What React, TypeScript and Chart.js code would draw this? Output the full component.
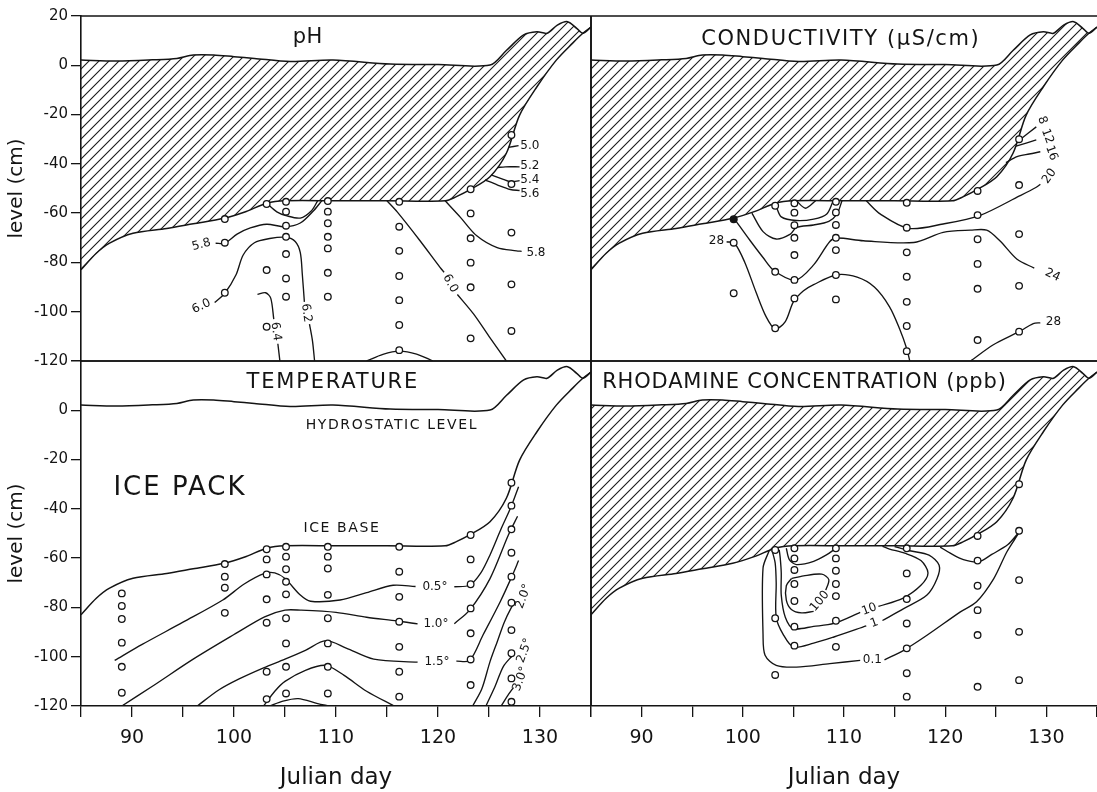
import React, { useEffect, useRef } from 'react';
import { Chart, registerables } from 'chart.js';

Chart.register(...registerables);

type P = [number, number];
type Label = [string, number, number, number];
type Title = [string, number, number];

// ---------- axes ----------
const DAY_MIN = 85;
const DAY_MAX = 135;
const LEVEL_MIN = -120;
const LEVEL_MAX = 20;
const dayTickLabels = [90, 100, 110, 120, 130];
const levelTickLabels = [20, 0, -20, -40, -60, -80, -100, -120];

// ---------- shared ice geometry ----------
const hydrostaticLevel: P[] = [[85, 2.1], [88.5, 1.7], [92, 2.2], [94.4, 2.8], [96, 4.2], [98, 4.2], [100, 3.5], [102, 2.8], [105.5, 1.5], [109.7, 2.1], [115.3, 0.5], [120, 0.3], [125.1, 0.1], [126.7, 6], [128.4, 12.3], [129.7, 13.6], [130.7, 13], [131.7, 16.3], [132.7, 17.7], [133.6, 15], [134.2, 13], [135, 15.5]];
const iceBase: P[] = [[85, -83], [86.5, -76.3], [87.8, -72.2], [90.1, -68.2], [93.4, -66.2], [96, -64.3], [99, -62.1], [101.2, -59.3], [103.2, -56], [105, -55], [110, -55], [115, -55], [120.7, -55], [121.8, -53.3], [123.1, -50.6], [125.1, -45.2], [126.7, -35.7], [128, -20.2], [129.7, -8.7], [131.6, 2.1], [133.2, 9], [134.2, 13], [135, 15.5]];

// ---------- pH ----------
const phSamples: P[] = [
  [99.1, -62.4], [99.1, -72], [99.1, -92.3],
  [103.2, -56.3], [103.2, -83.1], [103.2, -106.1],
  [105.1, -55.4], [105.1, -59.4], [105.1, -65.1], [105.1, -69.6], [105.1, -76.6], [105.1, -86.5], [105.1, -93.9],
  [109.2, -55.1], [109.2, -59.4], [109.2, -64.1], [109.2, -69.6], [109.2, -74.3], [109.2, -84.2], [109.2, -93.9],
  [116.2, -55.4], [116.2, -65.5], [116.2, -75.3], [116.2, -85.5], [116.2, -95.3], [116.2, -105.4], [116.2, -115.6],
  [123.2, -50.3], [123.2, -60.1], [123.2, -70.2], [123.2, -80.1], [123.2, -90.1], [123.2, -110.8],
  [127.2, -28.3], [127.2, -48.2], [127.2, -67.9], [127.2, -88.9], [127.2, -107.8],
];
const phArcUpper: P[] = [[103.2, -56], [104.2, -59.5], [105.1, -61], [106.5, -62], [107.6, -59], [108.2, -55]];
const ph58Left: P[] = [[98.2, -72.2], [99.1, -72.2], [100.3, -68.5], [101.6, -66], [103.2, -64.5], [105, -65.5], [106.5, -64], [107.8, -59], [108.6, -55]];
const ph60Left: P[] = [[98.1, -96.3], [99.1, -92.5], [100.2, -85], [100.9, -77], [102, -72], [103.5, -70.3], [105.1, -69.8], [106, -71.5], [106.5, -76], [106.7, -85], [106.9, -96]];
const ph62Low: P[] = [[107.4, -105], [107.7, -112], [107.9, -120]];
const ph64Top: P[] = [[102.3, -93], [103.1, -92.3], [103.6, -94.5], [103.9, -103]];
const ph64Low: P[] = [[104.3, -113], [104.5, -120]];
const phDome: P[] = [[113, -120], [114.6, -117.3], [116.2, -116], [117.9, -117.2], [119.5, -120]];
const ph60RightA: P[] = [[115, -55], [116, -59.5], [118.2, -71], [120.2, -82], [120.6, -84]];
const ph60RightB: P[] = [[121.9, -93], [123.5, -101], [125, -110], [126.7, -120]];
const ph58Right: P[] = [[120.7, -55], [122.2, -61.7], [123.8, -69.2], [125.8, -74], [127.7, -75.3], [128.2, -75.5]];
const ph50: P[] = [[126.9, -33.3], [127.9, -32.6]];
const ph52: P[] = [[125.8, -41.5], [126.6, -41.2], [128, -41.2]];
const ph54: P[] = [[125.2, -44.5], [126.4, -46.3], [127.1, -47.3], [128, -46.8]];
const ph56: P[] = [[124.6, -46.5], [125.8, -48.5], [127.1, -50.4], [128, -50.8]];
const phLabels: Label[] = [
  ['5.8', 96.8, -72.8, -15], ['6.0', 96.8, -97.8, -25], ['6.2', 107.1, -100.5, 82], ['6.4', 104.1, -108, 82],
  ['6.0', 121.2, -88.5, 62], ['5.8', 129.6, -76, 0], ['5.0', 129.0, -32.6, 0], ['5.2', 129.0, -41, 0],
  ['5.4', 129.0, -46.6, 0], ['5.6', 129.0, -52.2, 0],
];

// ---------- conductivity ----------
const condSamples: P[] = [
  [99.1, -72], [99.1, -92.5],
  [103.2, -57], [103.2, -83.8], [103.2, -106.7],
  [105.1, -56], [105.1, -59.8], [105.1, -64.9], [105.1, -70], [105.1, -77], [105.1, -87.1], [105.1, -94.6],
  [109.2, -55.4], [109.2, -59.7], [109.2, -64.8], [109.2, -70], [109.2, -75], [109.2, -85.1], [109.2, -95],
  [116.2, -55.8], [116.2, -65.9], [116.2, -75.9], [116.2, -85.8], [116.2, -96], [116.2, -105.8], [116.2, -116],
  [123.2, -51], [123.2, -60.8], [123.2, -70.6], [123.2, -80.6], [123.2, -90.7], [123.2, -111.5],
  [127.3, -30], [127.3, -48.6], [127.3, -68.5], [127.3, -89.5], [127.3, -108.1],
];
const condFilled: P[] = [[99.1, -62.5]];
const cArcSmall: P[] = [[105.3, -55], [106.2, -58], [107.2, -55]];
const cArcB: P[] = [[103.3, -57.3], [103.8, -61.5], [105.3, -63], [107, -62.4], [108.3, -60.3], [108.9, -55.3]];
const cArcC: P[] = [[100.9, -60], [102, -67.5], [103.3, -70.5], [104.7, -68.5], [105.3, -65.8], [107, -64.8], [108.5, -63.3], [109.3, -60.4], [109.8, -55]];
const c24: P[] = [[99.2, -62.5], [100.7, -71], [102, -78], [103.1, -83.4], [105.2, -87.2], [107, -81], [108.6, -71.5], [109.3, -70.1], [111.9, -71.2], [116.9, -71.9], [119.8, -67.8], [122.5, -66.9], [124.1, -66.9], [125.4, -71.2], [127.1, -78.7], [128.8, -82.3]];
const c28: P[] = [[98.4, -71.6], [99.2, -72.3], [100.2, -80], [101.3, -92], [102.3, -102], [103.2, -107], [104.2, -104], [105, -96], [106, -91.5], [107, -89], [109.3, -85], [111.3, -86], [113, -90], [114.5, -98], [115.5, -107], [116.2, -115], [116.5, -120]];
const c28Right: P[] = [[122.5, -120], [124.8, -113.3], [127.4, -107.9], [128.7, -104.8], [129.4, -104.5]];
const c20: P[] = [[112.2, -55], [113.6, -60.4], [116.4, -66.2], [119.8, -64.4], [123.4, -61], [127.4, -52.9], [129, -49.5], [129.4, -48.3]];
const c16: P[] = [[126, -39.5], [127.1, -37.1], [128.3, -36], [129.4, -35.1]];
const c12: P[] = [[127, -32.8], [129, -30.3]];
const c8: P[] = [[127.5, -29.8], [129, -25]];
const condLabels: Label[] = [
  ['28', 97.4, -71.2, 0], ['8', 129.6, -22.3, 70], ['12', 130.1, -28.8, 70], ['16', 130.5, -35.6, 70],
  ['20', 130.3, -45, -55], ['24', 130.6, -85.2, 25], ['28', 130.7, -104.2, 0],
];

// ---------- temperature ----------
const tempSamples: P[] = [
  [89, -74.3], [89, -79.4], [89, -84.7], [89, -94.3], [89, -104.1], [89, -114.6],
  [99.1, -62.4], [99.1, -67.5], [99.1, -72], [99.1, -82.2],
  [103.2, -56.4], [103.2, -60.5], [103.2, -66.6], [103.2, -76.7], [103.2, -86.2], [103.2, -106.1], [103.2, -117.2],
  [105.1, -55.4], [105.1, -59.4], [105.1, -64.5], [105.1, -69.6], [105.1, -74.7], [105.1, -84.4], [105.1, -94.6], [105.1, -104.1], [105.1, -114.9],
  [109.2, -55.4], [109.2, -59.4], [109.2, -64.2], [109.2, -74.9], [109.2, -84.4], [109.2, -94.6], [109.2, -104.1], [109.2, -114.9],
  [116.2, -55.4], [116.2, -65.5], [116.2, -75.7], [116.2, -85.8], [116.2, -96], [116.2, -106.1], [116.2, -116.2],
  [123.2, -50.6], [123.2, -60.5], [123.2, -70.6], [123.2, -80.4], [123.2, -90.5], [123.2, -101.1], [123.2, -111.5],
  [127.2, -29.4], [127.2, -38.7], [127.2, -48.3], [127.2, -57.8], [127.2, -67.5], [127.2, -78.1], [127.2, -89.2], [127.2, -98.6], [127.2, -108.8], [127.2, -118.3],
];
const t05a: P[] = [[88.3, -101.5], [91, -95], [95, -86], [98.9, -77], [101, -70.5], [103, -66.2], [104, -66], [105, -68.3], [106.5, -75], [107.5, -77.5], [110.4, -77], [113, -74], [115.6, -71], [117.8, -71.5]];
const t05b: P[] = [[121.6, -71.6], [123.1, -71], [124.2, -66], [125.1, -58.7], [126.2, -48], [127.1, -39.8], [127.9, -31]];
const t10a: P[] = [[89, -120], [92, -112], [96, -101], [100, -91], [103, -83.8], [105, -81.1], [106.5, -81.1], [110, -82], [113, -84], [116, -85.5], [118, -86.7]];
const t10b: P[] = [[121.6, -86.6], [123.1, -81.1], [125.1, -68.3], [126.9, -50.6], [127.8, -43]];
const t15a: P[] = [[96.4, -120], [98.5, -113.5], [100.5, -109], [102.9, -104.5], [105, -101], [107, -97.4], [109, -93.5], [111, -96.5], [113.7, -101], [118, -102.2]];
const t15b: P[] = [[121.8, -101.8], [123.1, -101.5], [124.4, -91.3], [126.1, -77.7], [127.3, -66.9], [127.9, -61]];
const t20: P[] = [[123.4, -120], [124.3, -113], [125.1, -102], [125.8, -94], [126.5, -86], [127.2, -80], [127.6, -77.5]];
const t25: P[] = [[124.7, -120], [125.6, -112], [126.4, -104], [127.3, -99.5]];
const t30: P[] = [[126.2, -120], [126.8, -116], [127.4, -112.5]];
const tLowA: P[] = [[102.9, -120], [104, -114], [105, -110], [107, -105.5], [109, -103.5], [110.8, -107.6], [113, -114], [115.7, -120]];
const tLowB: P[] = [[103.5, -120], [104.8, -118], [106.3, -117], [108.2, -119], [109.3, -120]];
const tempLabels: Label[] = [
  ['0.5°', 119.7, -71.5, 0], ['1.0°', 119.8, -86.8, 0], ['1.5°', 119.9, -102, 0],
  ['2.0°', 128.4, -75.5, -70], ['2.5°', 128.5, -97.5, -70], ['3.0°', 128.1, -109, -70],
];

// ---------- rhodamine ----------
const rhodSamples: P[] = [
  [103.2, -56.7], [103.2, -84.4], [103.2, -107.4],
  [105.1, -56], [105.1, -60.1], [105.1, -64.8], [105.1, -70.5], [105.1, -77.4], [105.1, -87.8], [105.1, -95.5],
  [109.2, -56], [109.2, -60.1], [109.2, -65.1], [109.2, -70.5], [109.2, -75.4], [109.2, -85.4], [109.2, -96],
  [116.2, -56], [116.2, -66.2], [116.2, -76.6], [116.2, -86.5], [116.2, -96.6], [116.2, -106.7], [116.2, -116.2],
  [123.2, -51], [123.2, -61], [123.2, -71.2], [123.2, -81.1], [123.2, -91.2], [123.2, -112.2],
  [127.3, -30], [127.3, -48.9], [127.3, -68.9], [127.3, -89.9], [127.3, -109.5],
];
const r01A: P[] = [[102.6, -57], [102, -64], [102, -91], [102.2, -99.4], [103.3, -103.5], [105.3, -104.2], [108.6, -102.8], [111.6, -101.5]];
const r01B: P[] = [[114, -101.3], [115.9, -97.4], [118.2, -91.3], [121.5, -81.8], [123.1, -77.7], [124.8, -68.3], [126.1, -57.4], [127.3, -49.5], [126.2, -54.5], [124.6, -58.5], [123.3, -61.5], [121.8, -60.6], [120.5, -58], [119.5, -55.5]];
const r1A: P[] = [[102.9, -57], [103.2, -62], [103.3, -70], [103.3, -84], [104, -91], [105, -96], [107, -94.5], [109, -92], [112.2, -87.5]];
const r1B: P[] = [[113.8, -85.3], [115.9, -80.5], [118.2, -75], [119.2, -68.3], [119.4, -62.9], [118.4, -58.8], [116.5, -57], [115, -55.3]];
const r10A: P[] = [[103.6, -56.6], [103.7, -60], [103.8, -66], [103.8, -75], [104.2, -84], [105, -88.6], [107, -87.7], [109, -86.5], [111.6, -82]];
const r10B: P[] = [[113.4, -79.6], [115.8, -76.3], [117.6, -71], [118.3, -66], [117.6, -61], [116, -58], [114.5, -56.3], [113.8, -55.2]];
const r100A: P[] = [[104.8, -68.3], [104.3, -71.2], [104.3, -77], [104.8, -80.8], [105.8, -82.2], [107, -81.6]];
const r100B: P[] = [[108.2, -73], [108.5, -68.7], [107.8, -66.5], [106, -67.2], [104.8, -68.3]];
const rArcTop: P[] = [[104.3, -56], [104.6, -60.6], [105.3, -62.6], [107, -61.3], [108.3, -58.6], [109.1, -56.3]];
const rhodLabels: Label[] = [
  ['100', 107.6, -77.5, -50], ['10', 112.5, -80.8, -20], ['1', 113, -86.3, -20], ['0.1', 112.8, -101.4, 0],
];

// ---------- panels ----------
const W = 1097;
const H = 792;

interface PanelDef {
  id: string;
  pad: { left: number; top: number; right: number; bottom: number };
  leftAxis: boolean;
  bottomAxis: boolean;
  hatch: boolean;
  hideTopLevelLabel: boolean;
  samples: P[];
  filled: P[];
  lines: P[][];
  labels: Label[];
  titles: Title[];
  titleFonts: [number, number][];
  edges: string[];
}

const panels: PanelDef[] = [
  {
    id: 'ph', pad: { left: 0, top: 16, right: W - 591, bottom: H - 361 }, leftAxis: true, bottomAxis: false, hatch: true,
    hideTopLevelLabel: false, samples: phSamples, filled: [],
    lines: [phArcUpper, ph58Left, ph60Left, ph62Low, ph64Top, ph64Low, phDome, ph60RightA, ph60RightB, ph58Right, ph50, ph52, ph54, ph56],
    labels: phLabels, titles: [['pH', 107.2, 11.1]], titleFonts: [[21, 0.5]], edges: ['top', 'right', 'bottom'],
  },
  {
    id: 'cond', pad: { left: 591, top: 16, right: 0, bottom: H - 361 }, leftAxis: false, bottomAxis: false, hatch: true,
    hideTopLevelLabel: false, samples: condSamples, filled: condFilled,
    lines: [cArcSmall, cArcB, cArcC, c24, c28, c28Right, c20, c16, c12, c8],
    labels: condLabels, titles: [['CONDUCTIVITY (µS/cm)', 109.6, 10.3]], titleFonts: [[21, 1.6]], edges: ['top', 'left', 'bottom'],
  },
  {
    id: 'temp', pad: { left: 0, top: 361, right: W - 591, bottom: 0 }, leftAxis: true, bottomAxis: true, hatch: false,
    hideTopLevelLabel: true, samples: tempSamples, filled: [],
    lines: [t05a, t05b, t10a, t10b, t15a, t15b, t20, t25, t30, tLowA, tLowB],
    labels: tempLabels,
    titles: [['TEMPERATURE', 109.6, 11.1], ['HYDROSTATIC LEVEL', 115.4, -6], ['ICE PACK', 94.6, -31.5], ['ICE BASE', 110.5, -47.8]],
    titleFonts: [[21, 1.8], [14, 1.6], [26, 2], [14, 1.6]], edges: ['top', 'right'],
  },
  {
    id: 'rhod', pad: { left: 591, top: 361, right: 0, bottom: 0 }, leftAxis: false, bottomAxis: true, hatch: true,
    hideTopLevelLabel: true, samples: rhodSamples, filled: [],
    lines: [r01A, r01B, r1A, r1B, r10A, r10B, r100A, r100B, rArcTop],
    labels: rhodLabels, titles: [['RHODAMINE CONCENTRATION (ppb)', 106.05, 11.1]], titleFonts: [[21, 0.8]], edges: ['top', 'left'],
  },
];

const FONT = "'DejaVu Sans', 'Noto Sans', sans-serif";
const INK = '#141414';

const toXY = (pts: P[]) => pts.map(([x, y]) => ({ x, y }));

function makeHatch(): CanvasPattern | string {
  const c = document.createElement('canvas');
  c.width = 10;
  c.height = 10;
  const g = c.getContext('2d');
  if (!g) return 'rgba(0,0,0,0.2)';
  g.strokeStyle = '#1a1a1a';
  g.lineWidth = 1.1;
  g.beginPath();
  g.moveTo(-1, 11); g.lineTo(11, -1);
  g.moveTo(-1, 1); g.lineTo(1, -1);
  g.moveTo(9, 11); g.lineTo(11, 9);
  g.stroke();
  return g.createPattern(c, 'repeat') || 'rgba(0,0,0,0.2)';
}

function framePlugin(edges: string[]) {
  return {
    id: 'panelFrame',
    afterDraw(chart: any) {
      const { ctx, chartArea: a } = chart;
      ctx.save();
      ctx.strokeStyle = INK;
      ctx.lineWidth = 1.6;
      ctx.beginPath();
      if (edges.includes('top')) { ctx.moveTo(a.left, a.top); ctx.lineTo(a.right, a.top); }
      if (edges.includes('bottom')) { ctx.moveTo(a.left, a.bottom); ctx.lineTo(a.right, a.bottom); }
      if (edges.includes('left')) { ctx.moveTo(a.left, a.top); ctx.lineTo(a.left, a.bottom); }
      if (edges.includes('right')) { ctx.moveTo(a.right, a.top); ctx.lineTo(a.right, a.bottom); }
      ctx.stroke();
      ctx.restore();
    },
  };
}

function textPlugin(labels: Label[], titles: Title[], titleFonts: [number, number][]) {
  return {
    id: 'panelText',
    afterDatasetsDraw(chart: any) {
      const { ctx } = chart;
      const xs = chart.scales.x;
      const ys = chart.scales.y;
      ctx.save();
      ctx.textAlign = 'center';
      ctx.textBaseline = 'middle';
      titles.forEach(([t, d, l], i) => {
        const [size, sp] = titleFonts[i];
        ctx.font = `${size}px ${FONT}`;
        (ctx as any).letterSpacing = `${sp}px`;
        const w = ctx.measureText(t).width;
        const px = xs.getPixelForValue(d);
        const py = ys.getPixelForValue(l);
        ctx.fillStyle = '#fff';
        ctx.fillRect(px - w / 2 - 3, py - size * 0.62, w + 6, size * 1.24);
        ctx.fillStyle = INK;
        ctx.fillText(t, px + sp / 2, py);
      });
      (ctx as any).letterSpacing = '0px';
      ctx.font = `12px ${FONT}`;
      ctx.fillStyle = INK;
      for (const [t, d, l, ang] of labels) {
        const px = xs.getPixelForValue(d);
        const py = ys.getPixelForValue(l);
        ctx.save();
        ctx.translate(px, py);
        ctx.rotate((ang * Math.PI) / 180);
        ctx.fillText(t, 0, 0);
        ctx.restore();
      }
      ctx.restore();
    },
  };
}

function buildConfig(def: PanelDef, pattern: CanvasPattern | string): any {
  const lineDs = (pts: P[], w = 1.35) => ({
    data: toXY(pts), showLine: true, pointRadius: 0, borderColor: INK, borderWidth: w, tension: 0.3, fill: false,
  });
  const datasets: any[] = [];
  if (def.filled.length) {
    datasets.push({ data: toXY(def.filled), showLine: false, pointRadius: 3.4, pointBackgroundColor: INK, pointBorderColor: INK, pointBorderWidth: 1.3 });
  }
  datasets.push({ data: toXY(def.samples), showLine: false, pointRadius: 3.3, pointBackgroundColor: '#fff', pointBorderColor: INK, pointBorderWidth: 1.3 });
  def.lines.forEach((seg) => datasets.push(lineDs(seg)));
  datasets.push(lineDs(hydrostaticLevel, 1.5));
  datasets.push(lineDs(iceBase, 1.5));
  if (def.hatch) {
    datasets.push({
      data: toXY([...hydrostaticLevel, ...iceBase.slice().reverse()]),
      showLine: true, fill: 'shape', backgroundColor: pattern, borderColor: 'rgba(0,0,0,0)', borderWidth: 0, pointRadius: 0, tension: 0.3,
    });
  }

  const yAxis: any = {
    type: 'linear', min: LEVEL_MIN, max: LEVEL_MAX, display: def.leftAxis,
    ticks: {
      stepSize: 20, autoSkip: false, padding: 3, color: INK, font: { size: 15, family: FONT },
      callback: (v: number) => (levelTickLabels.includes(v) && !(def.hideTopLevelLabel && v === LEVEL_MAX) ? String(v) : ''),
    },
    grid: { display: true, drawOnChartArea: false, drawTicks: true, tickLength: 10, color: INK, lineWidth: 1.3 },
    border: { display: true, color: INK, width: 1.6 },
    title: { display: true, text: 'level (cm)', color: INK, font: { size: 20, family: FONT }, padding: { top: 5, bottom: 0 } },
  };
  if (def.leftAxis) {
    yAxis.afterFit = (scale: any) => { scale.width = 81; scale.paddingTop = 0; scale.paddingBottom = 0; };
  }

  const xAxis: any = {
    type: 'linear', min: DAY_MIN, max: DAY_MAX, display: def.bottomAxis,
    ticks: {
      stepSize: 5, autoSkip: false, maxRotation: 0, padding: 10, color: INK, font: { size: 19, family: FONT },
      callback: (v: number) => (dayTickLabels.includes(v) ? String(v) : ''),
    },
    grid: { display: true, drawOnChartArea: false, drawTicks: true, tickLength: 11, color: INK, lineWidth: 1.3 },
    border: { display: true, color: INK, width: 1.6 },
    title: { display: true, text: 'Julian day', color: INK, font: { size: 23, family: FONT }, padding: { top: 0, bottom: 0 } },
  };
  if (def.bottomAxis) {
    xAxis.afterFit = (scale: any) => { scale.height = 86; scale.paddingLeft = 0; scale.paddingRight = 0; };
  }

  return {
    type: 'scatter',
    data: { datasets },
    options: {
      responsive: false,
      maintainAspectRatio: false,
      devicePixelRatio: 1,
      animation: false,
      events: [],
      layout: { padding: def.pad, autoPadding: false },
      plugins: { legend: { display: false }, tooltip: { enabled: false } },
      scales: { x: xAxis, y: yAxis },
    },
    plugins: [textPlugin(def.labels, def.titles, def.titleFonts), framePlugin(def.edges)],
  };
}

export default function App() {
  const r0 = useRef<HTMLCanvasElement>(null);
  const r1 = useRef<HTMLCanvasElement>(null);
  const r2 = useRef<HTMLCanvasElement>(null);
  const r3 = useRef<HTMLCanvasElement>(null);
  const refs = [r0, r1, r2, r3];

  useEffect(() => {
    document.body.style.margin = '0';
    Chart.defaults.font.family = FONT;
    Chart.defaults.color = INK;
    const pattern = makeHatch();
    const charts = panels.map((p, i) => new Chart(refs[i].current as HTMLCanvasElement, buildConfig(p, pattern)));
    return () => charts.forEach((c) => c.destroy());
  }, []);

  return (
    <div style={{ position: 'absolute', left: 0, top: 0, width: W, height: H, background: '#fff', overflow: 'hidden' }}>
      {panels.map((p, i) => (
        <canvas
          key={p.id}
          ref={refs[i]}
          width={W}
          height={H}
          style={{ position: 'absolute', left: 0, top: 0, width: W, height: H }}
        />
      ))}
    </div>
  );
}
